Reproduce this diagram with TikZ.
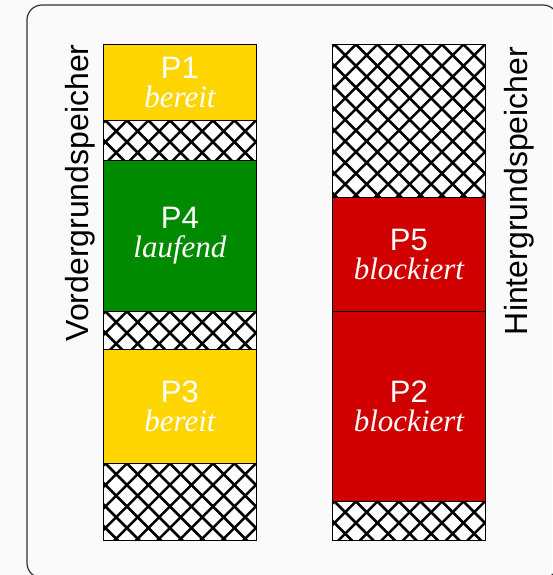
\documentclass[tikz,border=0pt]{standalone}
\usepackage{fontspec}
\setmainfont{Liberation Sans}
\newfontfamily\seriff{Liberation Serif}
\usetikzlibrary{calc}
\definecolor{bgcol}{RGB}{250,250,250}
\definecolor{framecol}{RGB}{50,50,50}
\definecolor{yel}{RGB}{255,213,0}
\definecolor{grn}{RGB}{0,138,0}
\definecolor{rd}{RGB}{208,0,0}
\begin{document}
\begin{tikzpicture}[x=1pt,y=-1pt,
  blk/.style={draw=black, line width=0.9pt, minimum width=153pt, inner sep=0pt,
    anchor=north west, text=white, align=center,
    font=\fontsize{31}{32}\selectfont},
  hatchbox/.style={blk, fill=white, path picture={
    \foreach \k in {-10,...,20}{
      \draw[black, line width=2.5pt]
        ($(path picture bounding box.north west)+(\k*21.5pt+2pt,0)$) -- ++(-320pt,-320pt);
      \draw[black, line width=2.5pt]
        ($(path picture bounding box.north west)+(\k*21.5pt+2pt,0)$) -- ++(320pt,-320pt);
    }}},
  side/.style={rotate=90, font=\fontsize{32}{36}\selectfont, inner sep=0pt},
]
\useasboundingbox (0,0) rectangle (552,575);
\fill[bgcol] (0,0) rectangle (552,575);
\draw[framecol, line width=1.2pt, rounded corners=15pt] (27,5) rectangle (558,578);

% left column
\node[blk, fill=yel, minimum height=76pt] (p1) at (103,44) {P1\\[-3pt]{\seriff\itshape bereit}};
\node[hatchbox, minimum height=40pt] (h1) at (103,120) {};
\node[blk, fill=grn, minimum height=151pt] (p4) at (103,160) {P4\\[-3pt]{\seriff\itshape laufend}};
\node[hatchbox, minimum height=38pt] (h2) at (103,311) {};
\node[blk, fill=yel, minimum height=114pt] (p3) at (103,349) {P3\\[-3pt]{\seriff\itshape bereit}};
\node[hatchbox, minimum height=77pt] (h3) at (103,463) {};

% right column
\node[hatchbox, minimum height=153pt] (h4) at (332,44) {};
\node[blk, fill=rd, minimum height=114pt] (p5) at (332,197) {P5\\[-3pt]{\seriff\itshape blockiert}};
\node[blk, fill=rd, minimum height=190pt] (p2) at (332,311) {P2\\[-3pt]{\seriff\itshape blockiert}};
\node[hatchbox, minimum height=39pt] (h5) at (332,501) {};

% side labels
\node[side] (vg) at (80,193) {Vordergrundspeicher};
\node[side] (hg) at (519,191) {Hintergrundspeicher};
\end{tikzpicture}
\end{document}
